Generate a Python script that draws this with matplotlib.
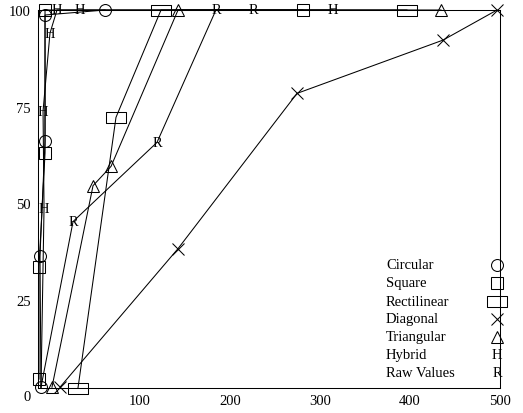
import matplotlib
matplotlib.use('Agg')
import matplotlib.pyplot as plt
from matplotlib.path import Path

# ---- data ------------------------------------------------------------------
circ_x = [-9.7, -10.8, -5.2, -5.2, 61.4]
circ_y = [2.3, 36.4, 66.0, 98.7, 100]

sq_x = [-11.9, -11.9, -5.2, -5.2, 281.2]
sq_y = [4.4, 33.5, 62.9, 100, 100]

rect_x = [31.4, 73.6, 123.6, 396.7]
rect_y = [2.1, 72.2, 100, 100]

diag_x = [11.4, 142.5, 274.6, 436.7, 496.7]
diag_y = [2.3, 38.2, 78.4, 92.2, 100]

tri_x = [2.5, 48.1, 68.1, 142.5, 434.5]
tri_y = [2.3, 54.5, 59.5, 100, 100]

hyb_x = [-9.7, -6.3, -7.4, 0.3, 8.1, 33.6, 314.6]
hyb_y = [2.1, 48.6, 73.8, 94.0, 100, 100, 100]

raw_x = [-9.7, 25.9, 119.1, 184.6, 225.7]
raw_y = [2.3, 45.2, 65.7, 100, 100]

xticks = [100, 200, 300, 400, 500]
yticks = [25, 50, 75, 100]

names = ['Circular', 'Square', 'Rectilinear', 'Diagonal', 'Triangular', 'Hybrid', 'Raw Values']

# ---- style -------------------------------------------------------------------
FS = 10.5
plt.rcParams['font.family'] = ['Liberation Serif', 'DejaVu Serif']
plt.rcParams['font.size'] = FS

LW = 0.75
wide_rect = Path([(-1, -0.55), (1, -0.55), (1, 0.55), (-1, 0.55), (-1, -0.55)],
                 [Path.MOVETO, Path.LINETO, Path.LINETO, Path.LINETO, Path.CLOSEPOLY])

fig = plt.figure(figsize=(5.23, 4.14), dpi=100)
ax = fig.add_axes([38/523, 1 - 389/414, 462/523, 378/414])

mk = dict(color='k', lw=LW, mfc='none', mec='k', mew=LW, clip_on=False)
ax.plot(circ_x, circ_y, marker='o', ms=8.6, **mk)
ax.plot(sq_x, sq_y, marker='s', ms=9.0, **mk)
ax.plot(rect_x, rect_y, marker=wide_rect, ms=14.4, **mk)
ax.plot(diag_x, diag_y, marker='x', ms=8.6, **mk)
ax.plot(tri_x, tri_y, marker='^', ms=8.6, **mk)
ax.plot(hyb_x, hyb_y, color='k', lw=LW, clip_on=False)
ax.plot(raw_x, raw_y, color='k', lw=LW, clip_on=False)

# letter marks (first point sits under the circle/square in the reference)
for x, y in zip(hyb_x[1:], hyb_y[1:]):
    ax.text(x, y, 'H', ha='center', va='center', fontsize=FS, clip_on=False)
for x, y in zip(raw_x[1:], raw_y[1:]):
    ax.text(x, y, 'R', ha='center', va='center', fontsize=FS, clip_on=False)

ax.set_xlim(-13, 500)
ax.set_ylim(2.1, 100)
ax.set_xticks(xticks)
ax.set_xticklabels([str(t) for t in xticks])
ax.set_yticks(yticks)
ax.set_yticklabels([str(t) for t in yticks])
ax.tick_params(length=0, labelsize=FS)
ax.tick_params(axis='x', pad=4.5)
ax.tick_params(axis='y', pad=5)
for s in ax.spines.values():
    s.set_linewidth(LW)
ax.text(-0.016, 0, '0', transform=ax.get_yaxis_transform(), ha='right', va='center',
        fontsize=FS, clip_on=False)

# legend: names left-aligned, marks in a column on the right
leg_y = [0.326, 0.278, 0.230, 0.183, 0.135, 0.088, 0.040]
marks = ['o', 's', wide_rect, 'x', '^', 'H', 'R']
sizes = [8.6, 9.0, 14.4, 8.6, 8.6, 0, 0]
for name, m, ms, y in zip(names, marks, sizes, leg_y):
    ax.text(0.753, y, name, transform=ax.transAxes, ha='left', va='center', fontsize=FS)
    if m in ('H', 'R'):
        ax.text(0.9935, y, m, transform=ax.transAxes, ha='center', va='center', fontsize=FS)
    else:
        ax.plot([0.9935], [y], marker=m, ms=ms, mfc='none', mec='k', mew=LW,
                transform=ax.transAxes, clip_on=False)

fig.savefig('out.png', dpi=100)
